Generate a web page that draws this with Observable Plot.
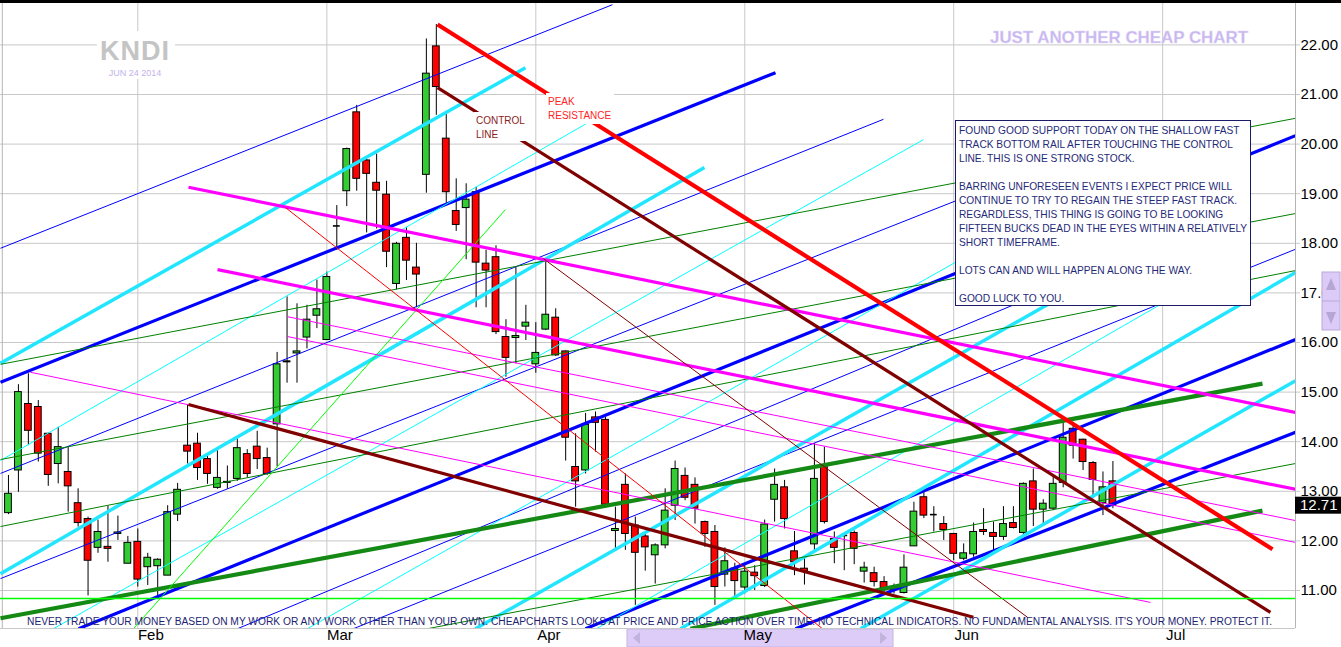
<!DOCTYPE html>
<html><head><meta charset="utf-8">
<script src="https://cdn.jsdelivr.net/npm/d3@7"></script>
<script src="https://cdn.jsdelivr.net/npm/@observablehq/plot@0.6"></script>
<style>
body{margin:0;background:#fff;}
#wrap{position:relative;width:1341px;height:647px;overflow:hidden;background:#fff;}
</style></head><body><div id="wrap"></div>
<script>
// ---------- DATA ----------
const dates = [
"2014-01-14","2014-01-15","2014-01-16","2014-01-17","2014-01-21","2014-01-22","2014-01-23","2014-01-24","2014-01-27","2014-01-28","2014-01-29","2014-01-30","2014-01-31",
"2014-02-03","2014-02-04","2014-02-05","2014-02-06","2014-02-07","2014-02-10","2014-02-11","2014-02-12","2014-02-13","2014-02-14","2014-02-18","2014-02-19","2014-02-20","2014-02-21","2014-02-24","2014-02-25","2014-02-26","2014-02-27","2014-02-28",
"2014-03-03","2014-03-04","2014-03-05","2014-03-06","2014-03-07","2014-03-10","2014-03-11","2014-03-12","2014-03-13","2014-03-14","2014-03-17","2014-03-18","2014-03-19","2014-03-20","2014-03-21","2014-03-24","2014-03-25","2014-03-26","2014-03-27","2014-03-28","2014-03-31",
"2014-04-01","2014-04-02","2014-04-03","2014-04-04","2014-04-07","2014-04-08","2014-04-09","2014-04-10","2014-04-11","2014-04-14","2014-04-15","2014-04-16","2014-04-17","2014-04-21","2014-04-22","2014-04-23","2014-04-24","2014-04-25","2014-04-28","2014-04-29","2014-04-30",
"2014-05-01","2014-05-02","2014-05-05","2014-05-06","2014-05-07","2014-05-08","2014-05-09","2014-05-12","2014-05-13","2014-05-14","2014-05-15","2014-05-16","2014-05-19","2014-05-20","2014-05-21","2014-05-22","2014-05-23","2014-05-27","2014-05-28","2014-05-29","2014-05-30",
"2014-06-02","2014-06-03","2014-06-04","2014-06-05","2014-06-06","2014-06-09","2014-06-10","2014-06-11","2014-06-12","2014-06-13","2014-06-16","2014-06-17","2014-06-18","2014-06-19","2014-06-20","2014-06-23","2014-06-24"];

const open = [
12.56,13.42,14.76,14.70,14.16,13.55,13.39,12.76,12.44,11.86,11.88,12.14,11.54,
11.98,11.47,11.49,11.30,12.53,13.92,13.96,13.65,13.07,13.17,13.25,13.75,13.90,13.67,14.35,15.60,15.78,16.10,16.54,
16.05,18.35,19.05,20.64,19.67,19.22,18.98,17.18,18.11,17.51,19.38,21.97,20.11,18.65,18.71,19.03,17.59,17.72,16.11,16.09,16.32,
15.56,16.26,16.50,15.82,13.49,13.42,14.49,14.44,12.20,13.13,12.31,12.09,11.71,11.91,12.71,13.31,13.13,12.38,12.18,11.32,11.44,
11.06,11.36,11.09,12.83,13.08,11.79,11.44,11.93,13.52,12.04,12.11,12.16,11.38,11.35,11.17,11.05,10.95,11.89,12.88,12.53,12.34,
12.14,11.64,11.73,12.22,12.16,12.08,12.36,12.16,13.20,12.63,12.65,13.17,14.26,14.04,13.57,12.76,13.20];
const high = [
13.32,15.15,15.37,14.83,14.17,14.29,13.89,13.05,12.48,12.42,12.70,12.50,12.09,
12.24,11.75,11.64,12.71,13.16,14.74,14.17,13.74,13.82,13.51,14.06,13.84,14.21,13.87,15.80,16.92,16.78,16.75,17.26,
17.42,18.76,19.92,20.78,19.70,19.80,19.25,18.02,18.31,18.00,22.12,22.41,20.62,19.30,19.20,19.13,17.86,17.95,16.46,17.52,16.75,
16.40,17.67,16.68,15.83,14.16,14.57,14.60,14.49,12.68,13.35,12.48,12.14,11.94,13.05,13.61,13.47,13.27,12.40,12.31,11.86,11.55,
11.50,11.50,12.42,13.45,13.22,12.19,11.65,13.96,13.89,12.18,12.14,12.20,11.57,11.47,11.28,11.13,11.72,12.78,13.02,12.69,12.49,
12.15,11.94,12.36,12.65,12.38,12.69,12.69,13.17,13.45,12.83,13.32,14.39,14.39,14.05,13.60,13.39,13.60];
const low = [
12.53,12.98,13.92,13.59,13.10,13.15,12.58,12.28,10.89,11.75,11.57,12.01,11.54,
11.07,11.10,10.88,11.30,12.39,13.55,13.22,13.14,13.04,13.04,13.20,13.27,13.44,13.32,13.49,15.18,15.18,15.87,16.28,
16.05,17.86,18.74,19.05,18.21,18.29,17.51,17.06,17.25,16.70,19.01,20.58,18.81,18.24,17.67,16.70,16.70,16.16,15.30,15.57,16.04,
15.38,16.24,15.72,13.61,12.68,13.35,13.79,12.68,11.84,11.81,10.70,11.39,11.13,11.84,12.41,12.81,12.34,11.87,10.70,11.07,10.87,
10.93,11.00,11.06,12.38,12.24,11.30,11.11,11.75,12.34,11.54,11.40,11.52,11.15,11.07,10.93,10.93,10.93,11.89,12.45,12.18,12.01,
11.60,11.60,11.67,12.11,11.77,12.01,12.24,12.11,12.29,12.31,12.61,13.07,13.65,13.42,12.85,12.51,12.65];
const close = [
12.95,15.00,14.22,13.76,13.33,13.89,13.10,12.36,11.60,12.18,11.84,12.17,11.96,
11.22,11.66,11.62,12.58,13.03,13.80,13.47,13.35,13.27,13.19,13.87,13.35,13.65,13.35,15.56,15.62,15.82,16.46,16.67,
17.32,18.35,19.90,19.30,19.40,19.06,17.83,17.99,17.65,17.37,21.42,21.15,19.03,18.37,18.88,17.61,17.45,16.21,15.69,16.13,16.40,
15.79,16.56,15.74,14.08,13.20,14.34,14.38,12.73,12.24,12.14,11.76,11.87,11.91,12.61,13.45,12.87,12.65,12.14,11.07,11.59,11.19,
11.38,11.29,12.33,13.13,12.44,11.57,11.38,13.25,12.38,11.86,12.11,11.84,11.46,11.17,11.05,11.01,11.46,12.59,12.51,12.53,12.22,
11.74,11.75,12.18,12.18,12.08,12.34,12.26,13.15,12.63,12.75,13.15,14.08,13.92,13.59,13.23,13.08,12.71];

const monthTickIdx = [13, 32, 53, 74, 95, 116];
const monthLabels = ["Feb", "Mar", "Apr", "May", "Jun", "Jul"];
const priceTicks = [11, 12, 13, 14, 15, 16, 17, 18, 19, 20, 21, 22];
const supportLevel = 10.84;
const lastPrice = 12.71;

// trend lines: [kind, start bar index, start price, end bar index, end price]
const trendLines = [
["blueThin", -0.80, 17.90, 60.70, 22.81],
["blueThin", -0.80, 13.36, 87.94, 20.50],
["blueThin", -0.80, 11.24, 109.75, 20.01],
["blueThin", 23.02, 10.23, 109.75, 17.49],
["blueThin", 34.67, 10.23, 129.35, 17.88],
["blueThick", -0.80, 15.20, 77.09, 21.44],
["blueThick", 7.04, 10.23, 129.35, 20.17],
["blueThick", 57.99, 10.23, 129.35, 16.06],
["blueThick", 79.10, 10.23, 129.35, 14.19],
["cyanThin", -0.80, 13.62, 58.49, 20.46],
["cyanThin", 4.52, 10.23, 91.96, 20.09],
["cyanThin", 30.05, 10.23, 109.75, 19.27],
["cyanThin", 59.10, 10.23, 119.80, 17.23],
["cyanThick", -0.80, 15.58, 51.96, 21.54],
["cyanThick", -0.80, 11.34, 69.95, 19.53],
["cyanThick", 46.93, 10.23, 114.77, 17.94],
["cyanThick", 67.54, 10.23, 129.35, 17.41],
["cyanThick", 85.63, 10.23, 129.35, 15.23],
["greenThin", -0.80, 15.56, 129.35, 20.52],
["greenThin", -0.80, 13.64, 129.35, 18.60],
["greenThin", -0.80, 12.29, 129.35, 17.45],
["greenThin", 42.11, 10.23, 129.35, 13.56],
["greenThick", -0.80, 10.44, 126.03, 15.17],
["greenThick", 68.54, 10.23, 126.03, 12.61],
["lime", 12.56, 10.23, 49.95, 18.68],
["magentaThin", 2.21, 15.40, 114.77, 10.76],
["magentaThin", 28.04, 16.52, 129.35, 12.41],
["magentaThin", 28.04, 16.12, 129.35, 11.97],
["magentaThick", 18.09, 19.13, 129.35, 14.59],
["magentaThick", 21.01, 17.47, 129.35, 13.04],
["redThin", 27.84, 18.72, 81.81, 10.23],
["brownThin", 53.77, 17.69, 102.41, 10.46],
["brownThick", 18.09, 14.75, 96.98, 10.46],
["brownThick", 43.12, 21.14, 126.83, 10.56],
["redThick", 43.12, 22.41, 127.04, 11.83]
];

const noteLines = [
"FOUND GOOD SUPPORT TODAY ON THE SHALLOW FAST",
"TRACK BOTTOM RAIL AFTER TOUCHING THE CONTROL",
"LINE. THIS IS ONE STRONG STOCK.",
"",
"BARRING UNFORESEEN EVENTS I EXPECT PRICE WILL",
"CONTINUE TO TRY TO REGAIN THE STEEP FAST TRACK.",
"REGARDLESS, THIS THING IS GOING TO BE LOOKING",
"FIFTEEN BUCKS DEAD IN THE EYES WITHIN A RELATIVELY",
"SHORT TIMEFRAME.",
"",
"LOTS CAN AND WILL HAPPEN ALONG THE WAY.",
"",
"GOOD LUCK TO YOU."
];
const disclaimer = "NEVER TRADE YOUR MONEY BASED ON MY WORK OR ANY WORK OTHER THAN YOUR OWN. CHEAPCHARTS LOOKS AT PRICE AND PRICE ACTION OVER TIME. NO TECHNICAL INDICATORS. NO FUNDAMENTAL ANALYSIS. IT'S YOUR MONEY. PROTECT IT.";

// ---------- STYLES ----------
const lineStyle = {
  blueThin: ["#0000ff", 1], blueThick: ["#0000ff", 3.2],
  cyanThin: ["#00ffff", 1], cyanThick: ["#22e6ff", 3.5],
  greenThin: ["#008000", 1], greenThick: ["#148a14", 4.2],
  lime: ["#00ff00", 1],
  magentaThin: ["#ff00ff", 1], magentaThick: ["#ff00ff", 3.2],
  redThin: ["#ff0000", 1], redThick: ["#ff0000", 4.2],
  brownThin: ["#800000", 1], brownThick: ["#800000", 3.2]
};
const FONT = "Liberation Sans, Arial, sans-serif";

// ---------- BUILD ----------
const candles = dates.map((d, i) => ({i, d, o: open[i], h: high[i], l: low[i], c: close[i]}));
const links = trendLines.map(([kind, i1, p1, i2, p2]) => ({kind, i1, p1, i2, p2}));
const kinds = Object.keys(lineStyle);

const chart = Plot.plot({
  width: 1341, height: 647,
  marginLeft: 0, marginRight: 46, marginTop: 0, marginBottom: 19,
  x: {domain: [-0.8, 129.35], axis: null},
  y: {domain: [10.234, 22.895], axis: null},
  color: {type: "identity"},
  style: {fontFamily: FONT, background: "white", overflow: "visible"},
  marks: [
    Plot.ruleY(priceTicks, {y: d => d, x1: -0.8, x2: 129.85, stroke: "#c8c8c8", clip: false}),
    Plot.ruleX(monthTickIdx, {x: d => d, stroke: "#c8c8c8"}),
    Plot.ruleX([-0.62], {x: d => d, stroke: "#b4b4b4"}),
    Plot.ruleX([129.35], {x: d => d, stroke: "#b4b4b4"}),
    Plot.ruleY([10.234], {y: d => d, stroke: "#c8c8c8"}),
    Plot.ruleX(candles, {x: "i", y1: "l", y2: "h", stroke: "black", strokeWidth: 1}),
    Plot.rect(candles, {
      x1: d => d.i - 0.34, x2: d => d.i + 0.34,
      y1: d => Math.min(d.o, d.c), y2: d => Math.max(d.o, d.c),
      fill: d => d.c > d.o ? "#33cc33" : d.c < d.o ? "#ff0000" : "black",
      stroke: "black", strokeWidth: 1
    }),
    Plot.ruleY(candles.filter(d => d.o === d.c), {y: "o", x1: d => d.i - 0.34, x2: d => d.i + 0.34, stroke: "black", strokeWidth: 1.6}),
    ...kinds.map(k => Plot.link(links.filter(l => l.kind === k), {
      x1: "i1", y1: "p1", x2: "i2", y2: "p2",
      stroke: lineStyle[k][0], strokeWidth: lineStyle[k][1], clip: true
    })),
    Plot.ruleY([supportLevel], {y: d => d, stroke: "#00ff00", strokeWidth: 1.4}),
    Plot.text(priceTicks, {x: 129.35, y: d => d, text: d => d.toFixed(2), dx: 5, textAnchor: "start", fontSize: 15, fill: "black"}),
    Plot.text(monthTickIdx, {x: d => d, text: d => monthLabels[monthTickIdx.indexOf(d)], frameAnchor: "bottom", dy: 11, dx: 13, fontSize: 15, fill: "black"})
  ]
});

document.getElementById("wrap").appendChild(chart);

// ---------- OVERLAYS ----------
const svg = d3.select(chart);
const ys = chart.scale("y");

// bottom scrollbar (decoration) drawn beneath everything
const deco = svg.insert("g", ":first-child");
deco.append("rect").attr("x", 0).attr("y", 0).attr("width", 1341).attr("height", 647).attr("fill", "white");
deco.append("rect").attr("x", 627).attr("y", 629).attr("width", 266).attr("height", 18)
  .attr("fill", "#ddccf8").attr("stroke", "#c6b6e6");
deco.append("path").attr("d", "M633,638 L640,632 L640,644 Z").attr("fill", "#c0b4dc");
deco.append("path").attr("d", "M887,638 L880,632 L880,644 Z").attr("fill", "#c0b4dc");

const g = svg.append("g").attr("font-family", FONT).attr("text-anchor", "start");

// right scroll widget
g.append("rect").attr("x", 1322).attr("y", 272).attr("width", 18).attr("height", 58)
  .attr("fill", "#dccaf7").attr("stroke", "#b9a9da");
g.append("line").attr("x1", 1322).attr("x2", 1340).attr("y1", 301).attr("y2", 301).attr("stroke", "#b9a9da");
g.append("path").attr("d", "M1331,278 L1336,290 L1326,290 Z").attr("fill", "#b6a6d6");
g.append("path").attr("d", "M1331,324 L1336,312 L1326,312 Z").attr("fill", "#b6a6d6");

// last price box
const yLast = ys.apply(lastPrice);
g.append("rect").attr("x", 1295).attr("y", yLast - 8.5).attr("width", 46).attr("height", 17).attr("fill", "black");
g.append("text").attr("x", 1300).attr("y", yLast).attr("dy", "0.35em").attr("font-size", 15)
  .attr("fill", "white").text(lastPrice.toFixed(2));

// label boxes with white background
function label(x, y, w, h, lines, color) {
  g.append("rect").attr("x", x).attr("y", y).attr("width", w).attr("height", h).attr("fill", "white");
  lines.forEach((t, k) => g.append("text").attr("x", x + 2).attr("y", y + 8 + 14 * k).attr("dy", "0.35em")
    .attr("font-size", 10).attr("fill", color).text(t));
}
label(474, 112, 54, 29, ["CONTROL", "LINE"], "#8b1c1c");
label(546, 93, 68, 31, ["PEAK", "RESISTANCE"], "#ff2525");

// KNDI watermark
g.append("rect").attr("x", 97).attr("y", 31).attr("width", 78).attr("height", 48).attr("fill", "white");
g.append("text").attr("x", 135).attr("y", 51).attr("dy", "0.35em").attr("text-anchor", "middle")
  .attr("font-size", 27).attr("font-weight", "bold").attr("fill", "#c4c4c4").attr("letter-spacing", 1).text("KNDI");
g.append("text").attr("x", 135).attr("y", 73).attr("dy", "0.35em").attr("text-anchor", "middle")
  .attr("font-size", 9).attr("fill", "#c2b2ee").text("JUN 24 2014");

// title
g.append("text").attr("x", 990).attr("y", 37).attr("dy", "0.35em").attr("font-size", 17)
  .attr("font-weight", "bold").attr("fill", "#c8b6f0").attr("stroke", "#e4dcf8").attr("stroke-width", 0.4)
  .attr("textLength", 258).attr("lengthAdjust", "spacingAndGlyphs").text("JUST ANOTHER CHEAP CHART");

// note box
g.append("rect").attr("x", 955.5).attr("y", 120.5).attr("width", 295).attr("height", 185)
  .attr("fill", "white").attr("stroke", "#1c1c66");
noteLines.forEach((t, k) => {
  if (t) g.append("text").attr("x", 959).attr("y", 130 + 14 * k).attr("dy", "0.35em")
    .attr("font-size", 10.2).attr("fill", "#1f2a78").text(t);
});

// disclaimer
g.append("text").attr("x", 27).attr("y", 621).attr("dy", "0.35em").attr("font-size", 10)
  .attr("fill", "#1c2470").attr("textLength", 1245).attr("lengthAdjust", "spacingAndGlyphs").text(disclaimer);

// top bar
g.append("rect").attr("x", 0).attr("y", 0).attr("width", 1341).attr("height", 3).attr("fill", "black");
</script>
</body></html>
